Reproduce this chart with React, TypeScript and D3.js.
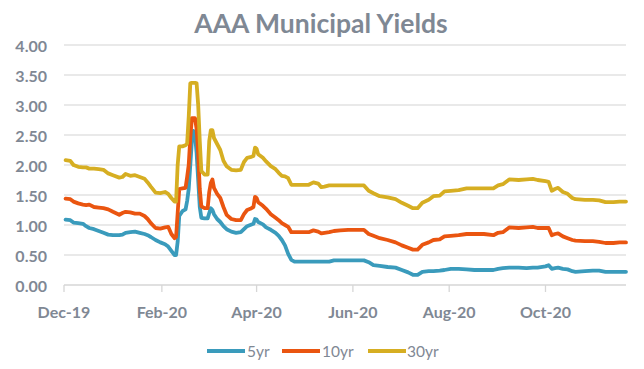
import React from "react";
import * as d3 from "d3";

const dates: string[] = [
  "2019-12-02","2019-12-05","2019-12-07","2019-12-10","2019-12-13","2019-12-15","2019-12-17","2019-12-20","2019-12-23","2019-12-26","2019-12-29",
  "2020-01-01","2020-01-05","2020-01-07","2020-01-09","2020-01-12","2020-01-15","2020-01-18","2020-01-21","2020-01-23","2020-01-25","2020-01-28","2020-01-31",
  "2020-02-03","2020-02-05","2020-02-07","2020-02-09","2020-02-10","2020-02-11","2020-02-12","2020-02-14","2020-02-16","2020-02-17","2020-02-18","2020-02-19","2020-02-20","2020-02-21","2020-02-22","2020-02-23","2020-02-24","2020-02-25","2020-02-26","2020-02-28",
  "2020-03-01","2020-03-02","2020-03-03","2020-03-04","2020-03-05","2020-03-07","2020-03-09","2020-03-11","2020-03-13","2020-03-16","2020-03-19","2020-03-22","2020-03-24","2020-03-26","2020-03-28","2020-03-30","2020-03-31",
  "2020-04-01","2020-04-02","2020-04-05","2020-04-07","2020-04-10","2020-04-13","2020-04-15","2020-04-17","2020-04-19","2020-04-21","2020-04-23","2020-04-25",
  "2020-05-04","2020-05-07","2020-05-10","2020-05-12","2020-05-14","2020-05-17","2020-05-20","2020-05-24","2020-05-29",
  "2020-06-08","2020-06-11","2020-06-14","2020-06-18","2020-06-23","2020-06-28",
  "2020-07-02","2020-07-06","2020-07-09","2020-07-12","2020-07-15","2020-07-19","2020-07-22","2020-07-26","2020-07-29",
  "2020-08-02","2020-08-07","2020-08-12","2020-08-17","2020-08-23","2020-08-29",
  "2020-09-01","2020-09-04","2020-09-08","2020-09-14","2020-09-19","2020-09-23","2020-09-26",
  "2020-10-01","2020-10-03","2020-10-05","2020-10-07","2020-10-09","2020-10-12","2020-10-15","2020-10-18","2020-10-20","2020-10-26","2020-10-31",
  "2020-11-04","2020-11-08","2020-11-13","2020-11-17","2020-11-21",
];

const yr5: number[] = [
  1.09,1.08,1.04,1.03,1.02,0.98,0.95,0.93,0.90,0.87,0.84,
  0.83,0.83,0.84,0.87,0.88,0.89,0.87,0.85,0.83,0.80,0.75,0.71,
  0.68,0.64,0.57,0.50,0.50,0.72,1.15,1.23,1.26,1.40,1.60,2.00,2.40,2.57,2.50,2.20,1.75,1.30,1.12,1.11,
  1.11,1.20,1.28,1.25,1.18,1.10,1.05,0.98,0.93,0.89,0.87,0.88,0.93,0.98,1.00,1.02,1.10,
  1.09,1.05,1.01,0.96,0.92,0.87,0.82,0.75,0.66,0.52,0.42,0.39,
  0.39,0.39,0.39,0.39,0.39,0.39,0.41,0.41,0.41,
  0.41,0.38,0.33,0.32,0.30,0.29,
  0.25,0.21,0.17,0.17,0.22,0.23,0.23,0.24,0.25,
  0.27,0.27,0.26,0.25,0.25,0.25,
  0.27,0.28,0.29,0.29,0.28,0.29,0.29,
  0.31,0.33,0.27,0.28,0.29,0.27,0.26,0.23,0.22,0.23,0.24,
  0.24,0.22,0.22,0.22,0.22,
];

const yr10: number[] = [
  1.44,1.43,1.39,1.36,1.34,1.33,1.34,1.30,1.29,1.28,1.26,
  1.22,1.17,1.20,1.22,1.21,1.19,1.19,1.15,1.10,1.03,0.95,0.94,
  0.96,0.97,0.85,0.78,0.80,1.20,1.60,1.61,1.62,1.80,2.00,2.45,2.78,2.78,2.78,2.60,2.20,1.60,1.31,1.28,
  1.28,1.55,1.70,1.76,1.62,1.52,1.45,1.30,1.17,1.10,1.08,1.08,1.18,1.25,1.27,1.30,1.47,
  1.45,1.38,1.32,1.27,1.18,1.12,1.08,1.03,1.00,0.97,0.88,0.88,
  0.88,0.91,0.89,0.86,0.87,0.88,0.90,0.91,0.92,
  0.92,0.85,0.82,0.78,0.75,0.71,
  0.66,0.62,0.59,0.59,0.67,0.71,0.75,0.76,0.81,
  0.82,0.83,0.85,0.85,0.85,0.83,
  0.87,0.88,0.96,0.95,0.96,0.97,0.95,
  0.95,0.95,0.83,0.85,0.86,0.81,0.78,0.75,0.74,0.73,0.73,
  0.72,0.70,0.70,0.71,0.71,
];

const yr30: number[] = [
  2.08,2.07,2.00,1.97,1.96,1.96,1.94,1.94,1.93,1.92,1.86,
  1.83,1.79,1.80,1.85,1.82,1.83,1.80,1.77,1.71,1.64,1.54,1.53,
  1.55,1.52,1.45,1.39,1.39,2.00,2.31,2.31,2.33,2.36,2.80,3.36,3.37,3.37,3.37,3.36,3.00,2.40,1.90,1.84,
  1.84,2.40,2.58,2.58,2.45,2.35,2.25,2.07,1.98,1.92,1.91,1.92,2.05,2.12,2.13,2.15,2.29,
  2.27,2.18,2.12,2.06,1.98,1.93,1.87,1.82,1.81,1.78,1.67,1.67,
  1.67,1.71,1.69,1.63,1.64,1.66,1.66,1.66,1.66,
  1.66,1.57,1.53,1.48,1.46,1.43,
  1.37,1.32,1.28,1.28,1.37,1.42,1.48,1.49,1.56,
  1.57,1.58,1.61,1.61,1.61,1.61,
  1.66,1.68,1.76,1.75,1.76,1.77,1.75,
  1.73,1.72,1.57,1.60,1.62,1.55,1.52,1.45,1.43,1.42,1.42,
  1.41,1.38,1.38,1.39,1.39,
];

const seriesNames = ["5yr", "10yr", "30yr"];
const seriesColors = ["#3A9BBC", "#EA5510", "#D6AE22"];
const yTicks = [0, 0.5, 1, 1.5, 2, 2.5, 3, 3.5, 4];
const xTickDates = ["2019-12-01", "2020-02-01", "2020-04-01", "2020-06-01", "2020-08-01", "2020-10-01"];
const title = "AAA Municipal Yields";

const FONT = "Lato, 'Open Sans', sans-serif";
const GRAY = "#7F8894";

export default function App() {
  const W = 644, H = 369;
  const left = 64, right = 626, top = 45, bottom = 285;
  const parse = d3.timeParse("%Y-%m-%d");
  const x = d3.scaleTime()
    .domain([parse("2019-12-01")!, parse("2020-11-21")!])
    .range([left, right]);
  const y = d3.scaleLinear().domain([0, 4]).range([bottom, top]);
  const fmtX = d3.timeFormat("%b-%y");
  const parsed = dates.map((d) => parse(d)!);
  const all = [yr5, yr10, yr30];
  const line = d3.line<[Date, number]>()
    .x((d) => x(d[0]))
    .y((d) => y(d[1]))
    .curve(d3.curveLinear);

  const legendItems = [
    { lx: 207, tx: 247 },
    { lx: 282, tx: 322 },
    { lx: 368, tx: 407 },
  ];

  return (
    <svg width={W} height={H} style={{ position: "absolute", left: 0, top: 0, background: "#fff" }}>
      <text x={321} y={23} textAnchor="middle" dominantBaseline="central"
        fontFamily={FONT} fontWeight={700} fontSize={26.5} fill={GRAY}>{title}</text>
      {yTicks.map((t) => (
        <g key={t}>
          {t > 0 && (
            <line x1={left} x2={right} y1={y(t)} y2={y(t)} stroke="#E2E2E2" strokeWidth={1.3} />
          )}
          <text x={47} y={y(t)} textAnchor="end" dominantBaseline="central"
            fontFamily={FONT} fontWeight={700} fontSize={16} fill={GRAY}>{t.toFixed(2)}</text>
        </g>
      ))}
      <line x1={left} x2={right} y1={y(0)} y2={y(0)} stroke="#D6D6D6" strokeWidth={1.3} />
      {xTickDates.map((d) => {
        const xx = x(parse(d)!);
        return (
          <g key={d}>
            <line x1={xx} x2={xx} y1={y(0)} y2={y(0) + 7} stroke="#D6D6D6" strokeWidth={1.3} />
            <text x={xx} y={311} textAnchor="middle" dominantBaseline="central"
              fontFamily={FONT} fontWeight={700} fontSize={16} fill={GRAY}>{fmtX(parse(d)!)}</text>
          </g>
        );
      })}
      {all.map((vals, i) => (
        <path key={seriesNames[i]}
          d={line(parsed.map((p, j) => [p, vals[j]] as [Date, number])) || ""}
          fill="none" stroke={seriesColors[i]} strokeWidth={3.8}
          strokeLinejoin="round" strokeLinecap="round" />
      ))}
      {seriesNames.map((n, i) => (
        <g key={n}>
          <line x1={legendItems[i].lx} x2={legendItems[i].lx + 38} y1={351} y2={351}
            stroke={seriesColors[i]} strokeWidth={4} />
          <text x={legendItems[i].tx} y={351} dominantBaseline="central"
            fontFamily={FONT} fontSize={15.5} fill={GRAY}>{n}</text>
        </g>
      ))}
    </svg>
  );
}
